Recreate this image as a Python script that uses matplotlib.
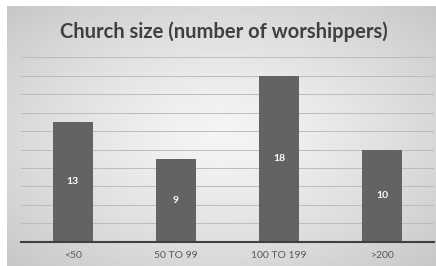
import numpy as np
import matplotlib as mpl
mpl.use('Agg')
import matplotlib.pyplot as plt

categories = ['<50', '50 TO 99', '100 TO 199', '>200']
counts = [13, 9, 18, 10]
title = 'Church size (number of worshippers)'

W, H = 436, 266
fig = plt.figure(figsize=(W / 100, H / 100), dpi=100)
fig.patch.set_facecolor('white')

# grey frame with a light radial gradient
bg = fig.add_axes([7 / W, 0, 1 - 7 / W, 1 - 6 / H])
yy, xx = np.mgrid[-1:1:200j, -1:1:300j]
r = np.sqrt(xx ** 2 + yy ** 2) / np.sqrt(2)
shade = 0.96 - 0.18 * r ** 1.3
bg.imshow(shade, cmap='gray', vmin=0, vmax=1, aspect='auto', extent=[0, 1, 0, 1])
bg.set_axis_off()

ax = fig.add_axes([21 / W, 24.3 / H, 413 / W, (241.7 - 57.3) / H])
ax.patch.set_alpha(0)
x = np.arange(len(categories))
bars = ax.bar(x, counts, width=0.387, color='#636363', zorder=3)
for b, v in zip(bars, counts):
    ax.text(b.get_x() + b.get_width() / 2, v / 2, str(v), ha='center', va='center',
            color='white', fontsize=7.5, fontweight='bold', family='Lato', zorder=4)

ax.set_xlim(-0.5, len(categories) - 0.5)
ax.set_ylim(0, 20)
for g in range(2, 21, 2):
    ax.axhline(g, color='#bcbcbc', lw=0.7, zorder=1)
for s in ['top', 'right', 'left']:
    ax.spines[s].set_visible(False)
ax.spines['bottom'].set_color('#404040')
ax.spines['bottom'].set_linewidth(1.5)
ax.spines['bottom'].set_zorder(5)
ax.set_yticks([])
ax.set_xticks(x)
ax.set_xticklabels(categories, fontsize=7.5, color='#595959', family='Lato')
ax.tick_params(axis='x', length=0, pad=7)

fig.text(224 / W, 1 - 32 / H, title, ha='center', va='center', fontsize=14.5,
         fontweight='bold', color='#404040', family='Lato')

fig.savefig('out.png', dpi=100)
